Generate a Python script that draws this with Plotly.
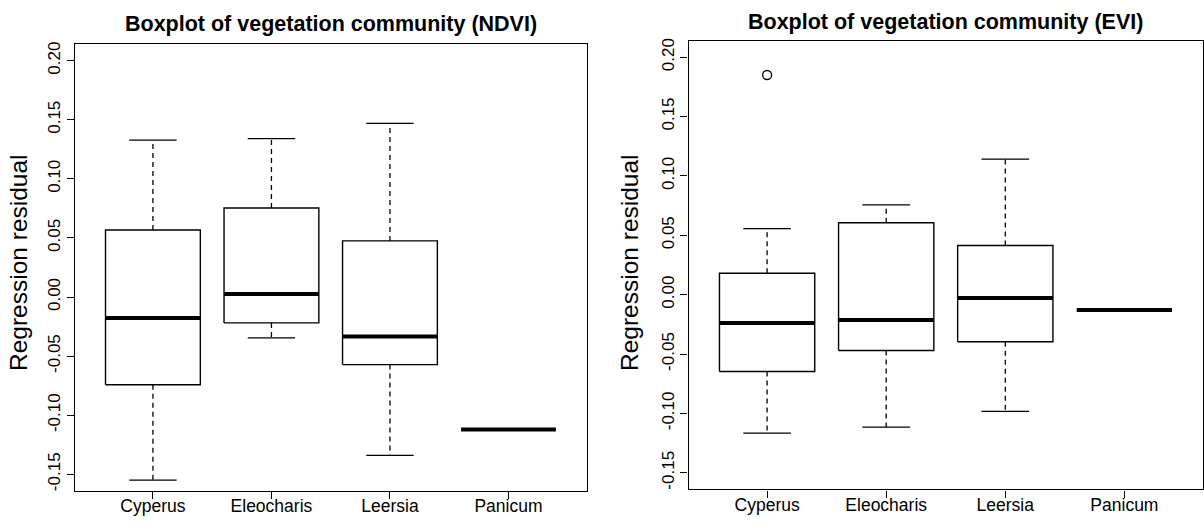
import plotly.graph_objects as go

# ---------------- data ----------------
categories = ["Cyperus", "Eleocharis", "Leersia", "Panicum"]

ndvi_lower = [-0.155, -0.0345, -0.134, -0.112]
ndvi_q1 = [-0.0742, -0.0219, -0.0572, -0.112]
ndvi_median = [-0.0177, 0.0026, -0.0335, -0.112]
ndvi_q3 = [0.0567, 0.0753, 0.0475, -0.112]
ndvi_upper = [0.1327, 0.1340, 0.1470, -0.112]
ndvi_outlier_cat = []
ndvi_outlier_val = []

evi_lower = [-0.1166, -0.1115, -0.0982, -0.0129]
evi_q1 = [-0.0647, -0.0470, -0.0397, -0.0129]
evi_median = [-0.0238, -0.0213, -0.0029, -0.0129]
evi_q3 = [0.0180, 0.0606, 0.0414, -0.0129]
evi_upper = [0.0556, 0.0756, 0.1142, -0.0129]
evi_outlier_cat = ["Cyperus"]
evi_outlier_val = [0.185]

y_tickvals = [-0.15, -0.10, -0.05, 0.00, 0.05, 0.10, 0.15, 0.20]
y_ticktext = ["-0.15", "-0.10", "-0.05", "0.00", "0.05", "0.10", "0.15", "0.20"]

titles = ["Boxplot of vegetation community (NDVI)", "Boxplot of vegetation community (EVI)"]
y_title = "Regression residual"

# ---------------- figure ----------------
W, H = 1204, 525
FONT = "Liberation Sans, Arial, Helvetica, sans-serif"
BOXW = 0.4    # half box width (boxwex 0.8)
STAPW = 0.2   # half staple width

fig = go.Figure()


def add_boxplot(lower, q1, med, q3, upper, out_cat, out_val, xa, ya):
    pos = list(range(1, len(categories) + 1))
    bx, by, wx, wy, sx, sy, mx, my = [], [], [], [], [], [], [], []
    for p, lo, a, m, b, hi in zip(pos, lower, q1, med, q3, upper):
        bx += [p - BOXW, p + BOXW, p + BOXW, p - BOXW, p - BOXW, None]
        by += [a, a, b, b, a, None]
        if hi > b:
            wx += [p, p, None]
            wy += [b, hi, None]
            sx += [p - STAPW, p + STAPW, None]
            sy += [hi, hi, None]
        if lo < a:
            wx += [p, p, None]
            wy += [a, lo, None]
            sx += [p - STAPW, p + STAPW, None]
            sy += [lo, lo, None]
        mx += [p - BOXW, p + BOXW, None]
        my += [m, m, None]
    common = dict(mode="lines", hoverinfo="skip", showlegend=False, xaxis=xa, yaxis=ya)
    fig.add_trace(go.Scatter(x=wx, y=wy, line=dict(color="black", width=1.3, dash="5px,4px"), **common))
    fig.add_trace(go.Scatter(x=sx, y=sy, line=dict(color="black", width=1.3), **common))
    fig.add_trace(go.Scatter(x=bx, y=by, line=dict(color="black", width=1.4), **common))
    fig.add_trace(go.Scatter(x=mx, y=my, line=dict(color="black", width=4), **common))
    if out_cat:
        ox = [categories.index(c) + 1 for c in out_cat]
        fig.add_trace(go.Scatter(x=ox, y=out_val, mode="markers", hoverinfo="skip", showlegend=False,
                                 marker=dict(symbol="circle-open", size=9, color="black",
                                             line=dict(width=1.3, color="black")),
                                 xaxis=xa, yaxis=ya))


add_boxplot(ndvi_lower, ndvi_q1, ndvi_median, ndvi_q3, ndvi_upper,
            ndvi_outlier_cat, ndvi_outlier_val, "x", "y")
add_boxplot(evi_lower, evi_q1, evi_median, evi_q3, evi_upper,
            evi_outlier_cat, evi_outlier_val, "x2", "y2")

# plot region positions in pixels
left_px = [(74.7, 586.7), (688.5, 1203.0)]
top_px = [(42.3, 490.7), (38.7, 489.3)]


def xdom(i):
    return [left_px[i][0] / W, left_px[i][1] / W]


def ydom(i):
    return [1 - top_px[i][1] / H, 1 - top_px[i][0] / H]


axis_common = dict(showline=True, mirror=True, linecolor="black", linewidth=1.4,
                   showgrid=False, zeroline=False, ticks="outside", ticklen=7,
                   tickcolor="black", tickwidth=1.3)

xaxis_cfg = dict(range=[0.34, 4.66], tickvals=[1, 2, 3, 4], ticktext=categories,
                 ticklabelstandoff=-8,
                 tickfont=dict(size=17.5, family=FONT, color="black"), **axis_common)
yaxis_cfg = dict(range=[-0.164, 0.214], tickvals=y_tickvals, ticktext=y_ticktext,
                 tickangle=-90, tickfont=dict(size=17, family=FONT, color="black"),
                 **axis_common)

fig.update_layout(
    width=W, height=H,
    margin=dict(l=0, r=0, t=0, b=0),
    paper_bgcolor="white", plot_bgcolor="white",
    font=dict(family=FONT, color="black"),
    xaxis=dict(domain=xdom(0), anchor="y", **xaxis_cfg),
    yaxis=dict(domain=ydom(0), anchor="x", **yaxis_cfg),
    xaxis2=dict(domain=xdom(1), anchor="y2", **xaxis_cfg),
    yaxis2=dict(domain=ydom(1), anchor="x2", **yaxis_cfg),
)

# titles
title_pos = [((74.7 + 586.7) / 2, 22), ((688.5 + 1203.0) / 2, 20)]
for t, (cx, cy) in zip(titles, title_pos):
    fig.add_annotation(text="<b>%s</b>" % t, x=cx / W, y=1 - cy / H, xref="paper", yref="paper",
                       showarrow=False, xanchor="center", yanchor="middle",
                       font=dict(size=21.5, family=FONT, color="black"))

# y-axis titles
ytitle_pos = [(18, 262), (629, 262)]
for (cx, cy) in ytitle_pos:
    fig.add_annotation(text=y_title, x=cx / W, y=1 - cy / H, xref="paper", yref="paper",
                       showarrow=False, xanchor="center", yanchor="middle", textangle=-90,
                       font=dict(size=24.5, family=FONT, color="black"))

fig.write_html("out.html")
